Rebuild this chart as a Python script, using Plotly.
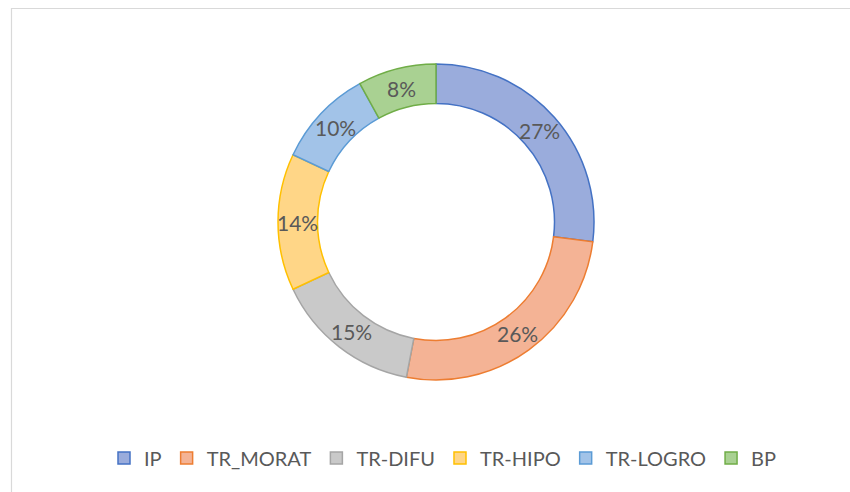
import math
import plotly.graph_objects as go

categories = ["IP", "TR_MORAT", "TR-DIFU", "TR-HIPO", "TR-LOGRO", "BP"]
values = [27, 26, 15, 14, 10, 8]
fill_colors = ["#9AACDC", "#F4B395", "#C9C9C9", "#FFD687", "#A2C3E8", "#A9D192"]
line_colors = ["#4472C4", "#ED7D31", "#A5A5A5", "#FFC000", "#5B9BD5", "#70AD47"]

W, H = 850, 492
ml, mr, mt, mb = 42, 20, 64, 112
pw, ph = W - ml - mr, H - mt - mb
HOLE = 0.75

fig = go.Figure(go.Pie(
    labels=categories,
    values=values,
    hole=HOLE,
    sort=False,
    direction="clockwise",
    rotation=0,
    marker=dict(colors=fill_colors, line=dict(color=line_colors, width=1.5)),
    textinfo="none",
    hoverinfo="label+percent",
    showlegend=True,
))

# percentage labels at the middle of each ring segment (derived from the data)
total = sum(values)
radius_px = min(pw, ph) / 2
mid_r = radius_px * (1 + HOLE) / 2
cum = 0
for cat, v in zip(categories, values):
    ang = 2 * math.pi * (cum + v / 2) / total
    cum += v
    fig.add_annotation(
        xref="paper", yref="paper",
        x=0.5 + mid_r * math.sin(ang) / pw,
        y=0.5 + mid_r * math.cos(ang) / ph,
        text=f"{round(100 * v / total)}%",
        showarrow=False,
        font=dict(family="Lato", size=21, color="#595959"),
        xanchor="center", yanchor="middle",
    )

def px_to_paper_x(px):
    return (px - ml) / pw

def px_to_paper_y(py):
    return (H - mb - py) / ph

border = dict(color="#D9D9D9", width=1.2)
fig.add_shape(type="line", xref="paper", yref="paper",
              x0=px_to_paper_x(11), x1=px_to_paper_x(852),
              y0=px_to_paper_y(8.5), y1=px_to_paper_y(8.5), line=border)
fig.add_shape(type="line", xref="paper", yref="paper",
              x0=px_to_paper_x(11.5), x1=px_to_paper_x(11.5),
              y0=px_to_paper_y(8), y1=px_to_paper_y(494), line=border)

fig.update_layout(
    width=W, height=H,
    margin=dict(l=ml, r=mr, t=mt, b=mb),
    paper_bgcolor="white",
    plot_bgcolor="white",
    font=dict(family="Lato", color="#595959"),
    legend=dict(
        orientation="h",
        xref="container", yref="container",
        x=443 / W, xanchor="center",
        y=1 - 458 / H, yanchor="middle",
        font=dict(family="Lato", size=20, color="#595959"),
        itemwidth=30,
        traceorder="normal",
    ),
)

fig.write_html(
    "out.html",
    config={"displayModeBar": False},
    post_script="document.body.style.margin='0';document.body.style.overflow='hidden';",
)
